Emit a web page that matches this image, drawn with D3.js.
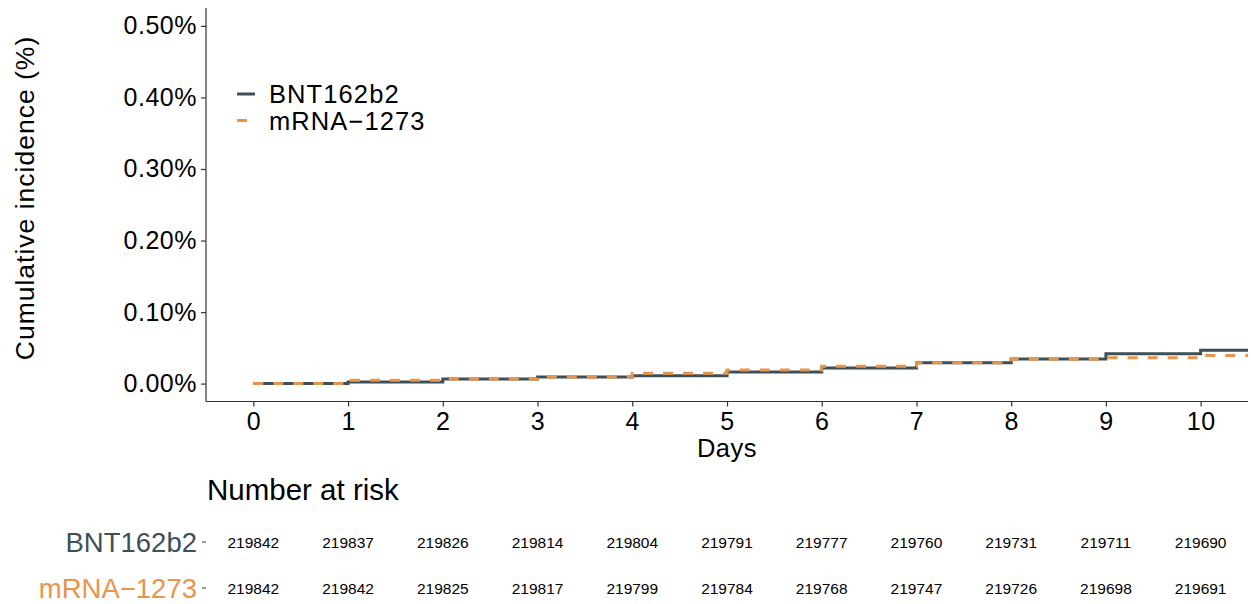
<!DOCTYPE html>
<html>
<head>
<meta charset="utf-8">
<script src="https://cdn.jsdelivr.net/npm/d3@7"></script>
<style>
  html, body { margin: 0; padding: 0; background: #ffffff; }
  svg { display: block; font-family: "Liberation Sans", Arial, sans-serif; }
</style>
</head>
<body>
<svg id="chart" width="1251" height="604"></svg>
<script>
// Cumulative incidence (%) by day since vaccination
const days = [0, 1, 2, 3, 4, 5, 6, 7, 8, 9, 10];
const bntIncidence  = [0, 0.0023, 0.0064, 0.0092, 0.0111, 0.0162, 0.0218, 0.0293, 0.0344, 0.0416, 0.0468];
const mrnaIncidence = [0, 0.0046, 0.0064, 0.0092, 0.0144, 0.0190, 0.0242, 0.0293, 0.0344, 0.0360, 0.0392];

// Number at risk at each day
const bntAtRisk  = [219842, 219837, 219826, 219814, 219804, 219791, 219777, 219760, 219731, 219711, 219690];
const mrnaAtRisk = [219842, 219842, 219825, 219817, 219799, 219784, 219768, 219747, 219726, 219698, 219691];

const groups = ["BNT162b2", "mRNA\u22121273"];
const yTicks = [0, 0.1, 0.2, 0.3, 0.4, 0.5];

const colors = { bnt: "#3d4f57", mrna: "#e8944a" };

const svg = d3.select("#chart");

const x = d3.scaleLinear().domain([-0.5, 10.5]).range([206, 1248]);
const y = d3.scaleLinear().domain([-0.025, 0.525]).range([401.5, 8]);

// Axes
const yAxis = d3.axisLeft(y).tickValues(yTicks).tickSize(5).tickPadding(4)
  .tickFormat(d => d.toFixed(2) + "%");
const gy = svg.append("g").attr("transform", "translate(206,0)").call(yAxis);
gy.select(".domain").attr("d", `M0,${y.range()[1]}V${y.range()[0]}`);

const xAxis = d3.axisBottom(x).tickValues(days).tickSize(5).tickPadding(6)
  .tickFormat(d3.format("d"));
const gx = svg.append("g").attr("transform", "translate(0,401.5)").call(xAxis);
gx.select(".domain").attr("d", `M${x.range()[0]},0H${x.range()[1]}`);

[gx, gy].forEach(g => {
  g.select(".domain").attr("stroke", "#333").attr("stroke-width", 1.2);
  g.selectAll(".tick line").attr("stroke", "#333").attr("stroke-width", 1.2);
  g.selectAll(".tick text")
    .attr("fill", "#000")
    .attr("font-size", 25)
    .attr("font-family", "'Liberation Sans', Arial, sans-serif")
    .attr("letter-spacing", 0.5);
});

// Axis titles
svg.append("text")
  .attr("transform", "translate(34,198) rotate(-90)")
  .attr("text-anchor", "middle")
  .attr("font-size", 26.5)
  .attr("letter-spacing", 1)
  .attr("fill", "#000")
  .text("Cumulative incidence (%)");

svg.append("text")
  .attr("x", 727).attr("y", 457)
  .attr("text-anchor", "middle")
  .attr("font-size", 25.5)
  .attr("letter-spacing", 0.5)
  .attr("fill", "#000")
  .text("Days");

// Step curves, clipped to the panel
svg.append("clipPath").attr("id", "panel")
  .append("rect").attr("x", 206).attr("y", 8).attr("width", 1042).attr("height", 394);

const stepLine = d3.line()
  .x(d => x(d[0]))
  .y(d => y(d[1]))
  .curve(d3.curveStepAfter);

function seriesPoints(vals) {
  const pts = days.map((d, i) => [d, vals[i]]);
  pts.push([x.domain()[1], vals[vals.length - 1]]);
  return pts;
}

const lines = svg.append("g").attr("clip-path", "url(#panel)");
lines.append("path")
  .attr("d", stepLine(seriesPoints(bntIncidence)))
  .attr("fill", "none")
  .attr("stroke", colors.bnt)
  .attr("stroke-width", 3);
lines.append("path")
  .attr("d", stepLine(seriesPoints(mrnaIncidence)))
  .attr("fill", "none")
  .attr("stroke", colors.mrna)
  .attr("stroke-width", 3)
  .attr("stroke-dasharray", "10,10");

// Legend
const legend = svg.append("g");
const legendRows = [
  { label: groups[0], color: colors.bnt, y: 94, key: [237, 255] },
  { label: groups[1], color: colors.mrna, y: 120.5, key: [237, 247] }
];
legendRows.forEach(r => {
  legend.append("line")
    .attr("x1", r.key[0]).attr("x2", r.key[1])
    .attr("y1", r.y).attr("y2", r.y)
    .attr("stroke", r.color).attr("stroke-width", 3);
  legend.append("text")
    .attr("x", 269).attr("y", r.y + 9)
    .attr("font-size", 25.5)
    .attr("letter-spacing", 1.1)
    .attr("fill", "#000")
    .text(r.label);
});

// Number at risk table
svg.append("text")
  .attr("x", 207).attr("y", 500)
  .attr("font-size", 29.5)
  .attr("fill", "#000")
  .text("Number at risk");

const tableRows = [
  { label: groups[0], color: colors.bnt, counts: bntAtRisk, y: 542 },
  { label: groups[1], color: colors.mrna, counts: mrnaAtRisk, y: 588 }
];
tableRows.forEach(r => {
  svg.append("text")
    .attr("x", 197).attr("y", r.y + 10)
    .attr("text-anchor", "end")
    .attr("font-size", 27.5)
    .attr("fill", r.color)
    .text(r.label);
  svg.append("line")
    .attr("x1", 202).attr("x2", 206)
    .attr("y1", r.y).attr("y2", r.y)
    .attr("stroke", "#333").attr("stroke-width", 1);
  svg.append("g").selectAll("text")
    .data(r.counts)
    .join("text")
    .attr("x", (d, i) => x(days[i]))
    .attr("y", r.y + 5.5)
    .attr("text-anchor", "middle")
    .attr("font-size", 15.5)
    .attr("fill", "#000")
    .text(d => d);
});
</script>
</body>
</html>
